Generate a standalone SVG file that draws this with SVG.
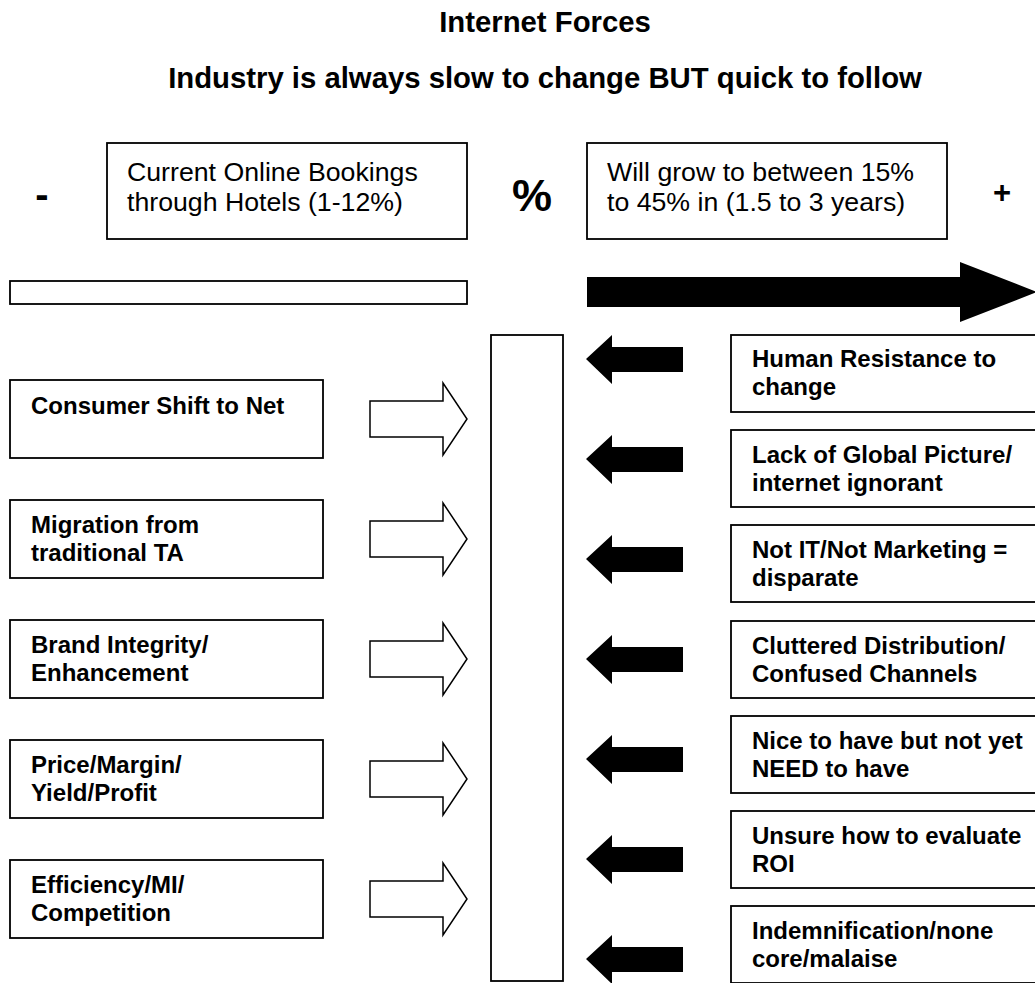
<svg xmlns="http://www.w3.org/2000/svg" width="1035" height="983" viewBox="0 0 1035 983">
<style>
  .box{fill:#fff;stroke:#000;stroke-width:1.8}
  .t{font-family:"Liberation Sans",Arial,sans-serif;fill:#000}
  .b{font-weight:bold;font-size:24px}
  .r{font-size:26.7px}
  .h{font-weight:bold;font-size:29.3px;text-anchor:middle}
  .hol{fill:#fff;stroke:#000;stroke-width:1.5;stroke-linejoin:miter}
  .sol{fill:#000;stroke:none}
</style>
<defs>
  <path id="hollow" d="M0,18 H73 V0 L97,36 L73,72 V54 H0 Z"/>
  <path id="solid" d="M0,24 L26,0 V12 H97 V37 H26 V49 Z"/>
</defs>
<rect width="1035" height="983" fill="#fff"/>

<g id="titles">
  <text class="t h" x="545" y="32">Internet Forces</text>
  <text class="t h" x="545" y="88">Industry is always slow to change BUT quick to follow</text>
</g>

<g id="minus"><text class="t" x="42" y="208" font-size="40" font-weight="bold" text-anchor="middle">-</text></g>
<g id="percent"><text class="t" x="532" y="211" font-size="45" font-weight="bold" text-anchor="middle">%</text></g>
<g id="plus"><text class="t" x="1002" y="203" font-size="31" font-weight="bold" text-anchor="middle">+</text></g>

<g id="current">
  <rect class="box" x="107" y="143" width="360" height="96"/>
  <text class="t r" x="127" y="181">Current Online Bookings</text>
  <text class="t r" x="127" y="211">through Hotels (1-12%)</text>
</g>
<g id="future">
  <rect class="box" x="587" y="143" width="360" height="96"/>
  <text class="t r" x="607" y="181">Will grow to between 15%</text>
  <text class="t r" x="607" y="211">to 45% in (1.5 to 3 years)</text>
</g>

<g id="bar"><rect class="box" x="10" y="281" width="457" height="23"/></g>
<g id="center"><rect class="box" x="491" y="335" width="72" height="646"/></g>

<g id="drivers">
  <g id="d1"><rect class="box" x="10" y="380" width="313" height="78"/>
    <text class="t b" x="31" y="414">Consumer Shift to Net</text></g>
  <g id="d2"><rect class="box" x="10" y="500" width="313" height="78"/>
    <text class="t b" x="31" y="533">Migration from</text><text class="t b" x="31" y="561">traditional TA</text></g>
  <g id="d3"><rect class="box" x="10" y="620" width="313" height="78"/>
    <text class="t b" x="31" y="653">Brand Integrity/</text><text class="t b" x="31" y="681">Enhancement</text></g>
  <g id="d4"><rect class="box" x="10" y="740" width="313" height="78"/>
    <text class="t b" x="31" y="773">Price/Margin/</text><text class="t b" x="31" y="801">Yield/Profit</text></g>
  <g id="d5"><rect class="box" x="10" y="860" width="313" height="78"/>
    <text class="t b" x="31" y="893">Efficiency/MI/</text><text class="t b" x="31" y="921">Competition</text></g>
</g>

<g id="barriers">
  <g id="b1"><rect class="box" x="731" y="335" width="320" height="77"/>
    <text class="t b" x="752" y="367">Human Resistance to</text><text class="t b" x="752" y="395">change</text></g>
  <g id="b2"><rect class="box" x="731" y="430" width="320" height="77"/>
    <text class="t b" x="752" y="463">Lack of Global Picture/</text><text class="t b" x="752" y="491">internet ignorant</text></g>
  <g id="b3"><rect class="box" x="731" y="525" width="320" height="77"/>
    <text class="t b" x="752" y="558">Not IT/Not Marketing =</text><text class="t b" x="752" y="586">disparate</text></g>
  <g id="b4"><rect class="box" x="731" y="621" width="320" height="77"/>
    <text class="t b" x="752" y="654">Cluttered Distribution/</text><text class="t b" x="752" y="682">Confused Channels</text></g>
  <g id="b5"><rect class="box" x="731" y="716" width="320" height="77"/>
    <text class="t b" x="752" y="749">Nice to have but not yet</text><text class="t b" x="752" y="777">NEED to have</text></g>
  <g id="b6"><rect class="box" x="731" y="811" width="320" height="77"/>
    <text class="t b" x="752" y="844">Unsure how to evaluate</text><text class="t b" x="752" y="872">ROI</text></g>
  <g id="b7"><rect class="box" x="731" y="906" width="320" height="77"/>
    <text class="t b" x="752" y="939">Indemnification/none</text><text class="t b" x="752" y="967">core/malaise</text></g>
</g>

<g id="connectors">
  <path class="sol" d="M587,277 H960 V262 L1037,292 L960,322 V307 H587 Z"/>
  <use href="#hollow" class="hol" x="370" y="383"/>
  <use href="#hollow" class="hol" x="370" y="503"/>
  <use href="#hollow" class="hol" x="370" y="623"/>
  <use href="#hollow" class="hol" x="370" y="743"/>
  <use href="#hollow" class="hol" x="370" y="863"/>
  <use href="#solid" class="sol" x="586" y="335"/>
  <use href="#solid" class="sol" x="586" y="435"/>
  <use href="#solid" class="sol" x="586" y="535"/>
  <use href="#solid" class="sol" x="586" y="635"/>
  <use href="#solid" class="sol" x="586" y="735"/>
  <use href="#solid" class="sol" x="586" y="835"/>
  <use href="#solid" class="sol" x="586" y="935"/>
</g>
</svg>
